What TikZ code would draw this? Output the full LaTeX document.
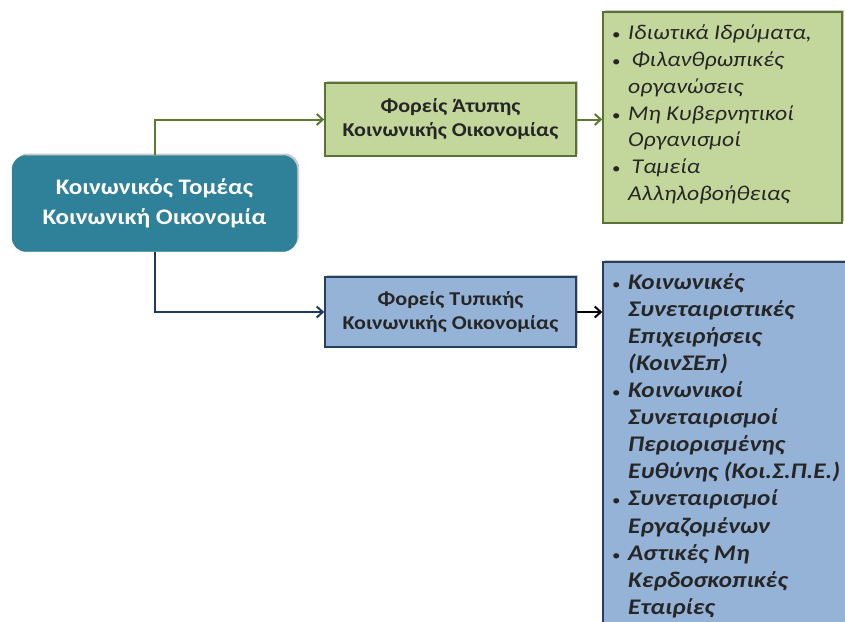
\documentclass[tikz,border=0pt]{standalone}
\usepackage{fontspec}
\setmainfont{Carlito}[FakeStretch=1.13]
\usetikzlibrary{shadows,arrows.meta}
\definecolor{tealbox}{HTML}{2F8099}
\definecolor{gfill}{HTML}{C3D69B}
\definecolor{gdraw}{HTML}{5B7330}
\definecolor{bfill}{HTML}{95B3D7}
\definecolor{bdraw}{HTML}{243F60}
\definecolor{gline}{HTML}{5E7A31}
\definecolor{bline}{HTML}{1F3A5F}
\newcommand\itm[1]{\makebox[16pt][l]{\upshape\mdseries\fontsize{15}{15}\selectfont•}#1}
\newcommand\cnt[1]{\hspace*{16pt}#1}
\tikzset{
  shad/.style={drop shadow={shadow xshift=2pt,shadow yshift=2pt,opacity=0.35,fill=black!60}},
  mainbox/.style={shad,fill=tealbox,draw=tealbox,rounded corners=14pt,minimum width=285pt,minimum height=96pt,
    text=white,font=\fontsize{22.2}{30}\selectfont\bfseries,align=center,inner sep=0pt},
  gbox/.style={shad,fill=gfill,draw=gdraw,line width=1.6pt,inner sep=0pt},
  bbox/.style={shad,fill=bfill,draw=bdraw,line width=1.6pt,inner sep=0pt},
  midtext/.style={font=\fontsize{19.6}{24}\selectfont\bfseries,align=center,text=black!85},
  conn/.style={line width=2pt,-{Straight Barb[length=6pt,width=11pt,line width=2pt]}},
  listtext/.style={anchor=north west,inner sep=0pt,align=left,text=black!85},
}
\begin{document}
\begin{tikzpicture}[x=1pt,y=-1pt]
\useasboundingbox (0,0) rectangle (845,621);
\clip (0,0) rectangle (845,621);
\fill[white] (0,0) rectangle (845,621);
% right boxes
\node[gbox,minimum width=239pt,minimum height=211pt] (gright) at (722.5,117.5) {};
\node[bbox,minimum width=250pt,minimum height=380pt] (bright) at (728,452) {};
% mid boxes
\node[gbox,minimum width=251pt,minimum height=73pt,midtext] (gmid) at (450.5,119.5) {Φορείς Άτυπης\\Κοινωνικής Οικονομίας};
\node[bbox,minimum width=251pt,minimum height=70pt,midtext] (bmid) at (450.5,312) {Φορείς Τυπικής\\Κοινωνικής Οικονομίας};
% main
\node[mainbox] (main) at (154.5,203.5) {Κοινωνικός Τομέας\\Κοινωνική Οικονομία};
% lists
\node[listtext,font=\fontsize{21}{26.7}\selectfont\itshape] (glist) at (612,25) {%
\itm{Ιδιωτικά Ιδρύματα,}\\
\itm{\,Φιλανθρωπικές}\\
\cnt{οργανώσεις}\\
\itm{Μη Κυβερνητικοί}\\
\cnt{Οργανισμοί}\\
\itm{\,Ταμεία}\\
\cnt{Αλληλοβοήθειας}};
\node[listtext,font=\fontsize{22.3}{27.1}\selectfont\bfseries\itshape] (blist) at (612,273) {%
\itm{Κοινωνικές}\\
\cnt{Συνεταιριστικές}\\
\cnt{Επιχειρήσεις}\\
\cnt{(ΚοινΣΕπ)}\\
\itm{Κοινωνικοί}\\
\cnt{Συνεταιρισμοί}\\
\cnt{Περιορισμένης}\\
\cnt{Ευθύνης (Κοι.Σ.Π.Ε.)}\\
\itm{Συνεταιρισμοί}\\
\cnt{Εργαζομένων}\\
\itm{Αστικές Μη}\\
\cnt{Κερδοσκοπικές}\\
\cnt{Εταιρίες}};
% connectors
\draw[conn,gline] (main.north) |- (gmid.west);
\draw[conn,bline] (main.south) |- (bmid.west);
\draw[conn,gline] (gmid.east) -- (gmid.east -| gright.west);
\draw[conn,black] (bmid.east) -- (bmid.east -| bright.west);
\end{tikzpicture}
\end{document}
